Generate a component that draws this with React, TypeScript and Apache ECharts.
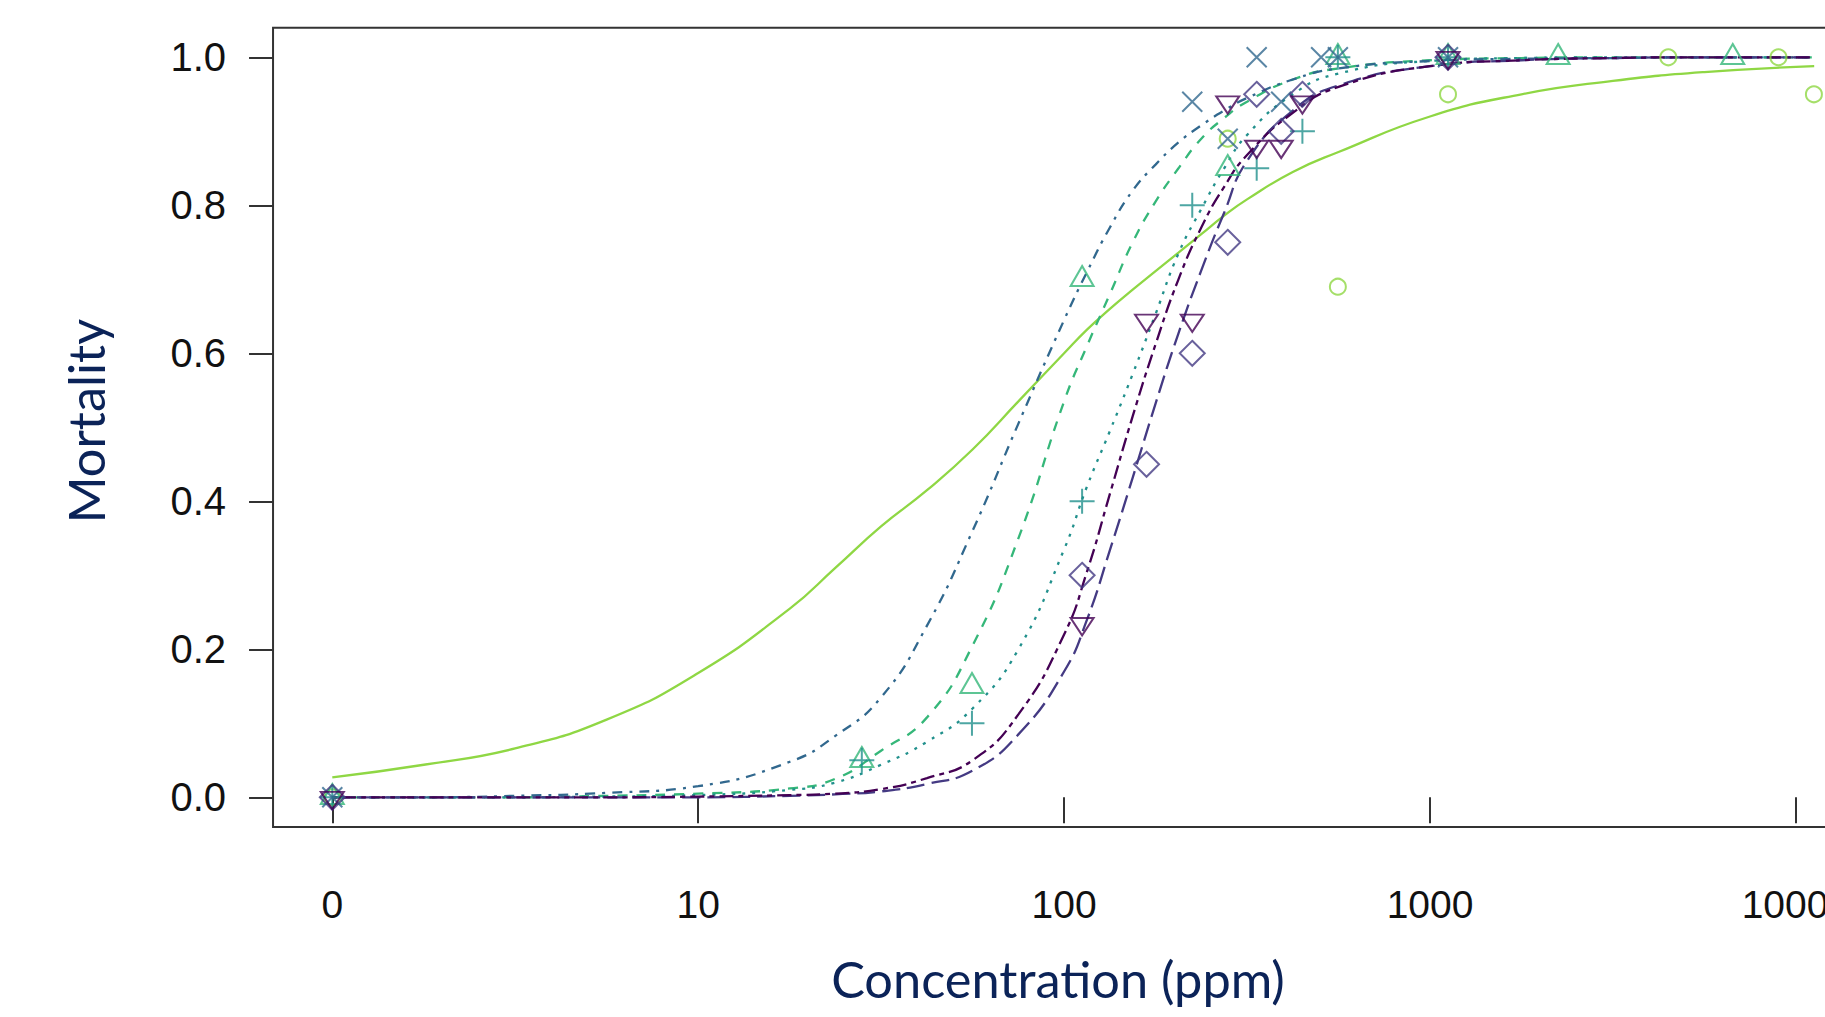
import { useEffect, useRef } from "react";
import * as echarts from "echarts";

// ---------- data ----------
// x positions (ppm) of the sampled fitted curves; 1 ppm is drawn at the "0" tick (control)
const CURVE_X = [1, 1.78, 3.16, 5.62, 10, 17.8, 23.7, 31.6, 42.2, 56.2, 75, 100, 115.5, 133.4, 154, 177.8, 205.4, 237.1, 273.8, 316.2, 421.7, 562.3, 1000, 1778, 3162, 5623, 11220];

const CURVE_CIRCLE = [0.027, 0.044, 0.066, 0.105, 0.168, 0.255, 0.31, 0.366, 0.415, 0.47, 0.535, 0.6, 0.632, 0.66, 0.686, 0.711, 0.736, 0.761, 0.786, 0.808, 0.845, 0.872, 0.92, 0.95, 0.968, 0.98, 0.988];
const CURVE_TRIANGLE = [0, 0, 0, 0.002, 0.005, 0.012, 0.025, 0.063, 0.108, 0.205, 0.35, 0.535, 0.61, 0.68, 0.75, 0.805, 0.85, 0.89, 0.918, 0.94, 0.97, 0.985, 0.996, 0.999, 1, 1, 1];
const CURVE_PLUS = [0, 0, 0, 0.001, 0.003, 0.01, 0.02, 0.044, 0.075, 0.12, 0.2, 0.335, 0.42, 0.495, 0.572, 0.653, 0.735, 0.795, 0.85, 0.895, 0.95, 0.978, 0.995, 0.999, 1, 1, 1];
const CURVE_CROSS = [0, 0, 0.002, 0.006, 0.015, 0.048, 0.083, 0.135, 0.232, 0.36, 0.505, 0.645, 0.71, 0.77, 0.82, 0.855, 0.885, 0.908, 0.928, 0.945, 0.97, 0.985, 0.995, 0.998, 0.999, 1, 1];
const CURVE_DIAMOND = [0, 0, 0, 0, 0, 0.002, 0.004, 0.008, 0.018, 0.036, 0.085, 0.17, 0.24, 0.334, 0.432, 0.532, 0.627, 0.712, 0.79, 0.86, 0.928, 0.962, 0.988, 0.996, 0.999, 1, 1];
const CURVE_INVTRI = [0, 0, 0, 0, 0.001, 0.003, 0.005, 0.011, 0.026, 0.05, 0.112, 0.22, 0.305, 0.41, 0.515, 0.612, 0.7, 0.77, 0.825, 0.868, 0.925, 0.96, 0.988, 0.996, 0.999, 1, 1];

// observed mortality
const OBS_CIRCLE_X = [1, 280, 560, 1120, 4480, 8960, 11200];
const OBS_CIRCLE_Y = [0, 0.89, 0.69, 0.95, 1.0, 1.0, 0.95];
const OBS_TRIANGLE_X = [1, 28, 56, 112, 280, 560, 1120, 2240, 6720];
const OBS_TRIANGLE_Y = [0, 0.05, 0.15, 0.7, 0.85, 1.0, 1.0, 1.0, 1.0];
const OBS_PLUS_X = [1, 28, 56, 112, 224, 336, 448, 560, 1120];
const OBS_PLUS_Y = [0, 0.05, 0.1, 0.4, 0.8, 0.85, 0.9, 1.0, 1.0];
const OBS_CROSS_X = [1, 224, 280, 336, 392, 504, 560, 1120];
const OBS_CROSS_Y = [0, 0.94, 0.89, 1.0, 0.94, 1.0, 1.0, 1.0];
const OBS_DIAMOND_X = [1, 112, 168, 224, 280, 336, 392, 448, 1120];
const OBS_DIAMOND_Y = [0, 0.3, 0.45, 0.6, 0.75, 0.95, 0.9, 0.95, 1.0];
const OBS_INVTRI_X = [1, 112, 168, 224, 280, 336, 392, 448, 1120];
const OBS_INVTRI_Y = [0, 0.235, 0.645, 0.645, 0.94, 0.88, 0.88, 0.94, 1.0];

const X_TICKS = [1, 10, 100, 1000, 10000];
const X_TICK_LABELS = ["0", "10", "100", "1000", "10000"];
const Y_TICKS = [0, 0.2, 0.4, 0.6, 0.8, 1.0];

const X_MIN = 0.6887; // plotting range (4% padding, log scale)
const X_MAX = 16255;
const Y_MIN = -0.04;
const Y_MAX = 1.04;

// ---------- layout / style ----------
const VIEW_W = 1825;
const VIEW_H = 1017;
const CHART_W = 1900;
const X0 = 332.3; // pixel of x = 1
const DEC = 365.9; // pixels per decade
const Y1 = 57.3; // pixel of y = 1.0
const YSPAN = 740; // pixels from 0.0 to 1.0

const boxLeft = X0 + Math.log10(X_MIN) * DEC;
const boxWidth = (Math.log10(X_MAX) - Math.log10(X_MIN)) * DEC;
const boxTop = Y1 - (Y_MAX - 1) * YSPAN;
const boxHeight = (Y_MAX - Y_MIN) * YSPAN;

const AXIS_COLOR = "#333333";
const LABEL_FONT = "Liberation Sans, Arial, sans-serif";
const TITLE_FONT = "Lato, 'Open Sans', sans-serif";
const TITLE_COLOR = "#0b2358";

const GROUPS = [
  { curve: CURVE_CIRCLE, ox: OBS_CIRCLE_X, oy: OBS_CIRCLE_Y, color: "#8FD744", dash: "solid", symbol: "circle", size: 16, offset: [0, 0] },
  { curve: CURVE_TRIANGLE, ox: OBS_TRIANGLE_X, oy: OBS_TRIANGLE_Y, color: "#35B779", dash: [10, 9], symbol: "triangle", size: [23, 20], offset: [0, -3.3] },
  { curve: CURVE_PLUS, ox: OBS_PLUS_X, oy: OBS_PLUS_Y, color: "#21908C", dash: [3, 7], symbol: "path://M0,10L20,10M10,0L10,20", size: 25, offset: [0, 0] },
  { curve: CURVE_CROSS, ox: OBS_CROSS_X, oy: OBS_CROSS_Y, color: "#31688E", dash: [3, 7, 10, 7], symbol: "path://M0,0L20,20M20,0L0,20", size: 20, offset: [0, 0] },
  { curve: CURVE_DIAMOND, ox: OBS_DIAMOND_X, oy: OBS_DIAMOND_Y, color: "#443A83", dash: [18, 7], symbol: "diamond", size: 25, offset: [0, 0] },
  { curve: CURVE_INVTRI, ox: OBS_INVTRI_X, oy: OBS_INVTRI_Y, color: "#440154", dash: [5, 5, 14, 5], symbol: "path://M0,0L20,0L10,17.32Z", size: [23, 20], offset: [0, 3.3] },
];

export default function App() {
  const ref = useRef<HTMLDivElement>(null);

  useEffect(() => {
    if (!ref.current) return;
    const chart = echarts.init(ref.current, undefined, { renderer: "svg" });

    const lineSeries = GROUPS.map((g) => ({
      type: "line",
      xAxisIndex: 0,
      yAxisIndex: 0,
      data: CURVE_X.map((x, i) => [x, g.curve[i]]),
      showSymbol: false,
      symbol: "none",
      smooth: 0.5,
      silent: true,
      z: 2,
      lineStyle: { color: g.color, width: 2.3, type: g.dash as any },
    }));

    const pointSeries = GROUPS.map((g) => ({
      type: "scatter",
      xAxisIndex: 0,
      yAxisIndex: 0,
      data: g.ox.map((x, i) => [x, g.oy[i]]),
      symbol: g.symbol,
      symbolSize: g.size,
      symbolOffset: g.offset,
      symbolKeepAspect: true,
      silent: true,
      z: 3,
      itemStyle: { color: "rgba(0,0,0,0)", borderColor: g.color, borderWidth: 2 },
    }));

    chart.setOption({
      animation: false,
      backgroundColor: "#ffffff",
      grid: [
        {
          left: boxLeft,
          top: boxTop,
          width: boxWidth,
          height: boxHeight,
          show: true,
          borderColor: AXIS_COLOR,
          borderWidth: 2,
          backgroundColor: "transparent",
          containLabel: false,
          outerBoundsMode: "none",
        },
        {
          left: X0,
          top: Y1,
          width: DEC * 4,
          height: YSPAN,
          show: false,
          containLabel: false,
          outerBoundsMode: "none",
        },
      ],
      xAxis: [
        { type: "log", logBase: 10, gridIndex: 0, min: X_MIN, max: X_MAX, show: false },
        {
          type: "log",
          logBase: 10,
          gridIndex: 1,
          min: X_TICKS[0],
          max: X_TICKS[X_TICKS.length - 1],
          position: "bottom",
          offset: boxTop + boxHeight - (Y1 + YSPAN),
          axisLine: { show: false },
          splitLine: { show: false },
          minorTick: { show: false },
          axisTick: { show: true, length: 26, lineStyle: { color: AXIS_COLOR, width: 2 } },
          axisLabel: {
            show: true,
            margin: 78,
            verticalAlign: "middle",
            color: "#111111",
            fontFamily: LABEL_FONT,
            fontSize: 39,
            showMinLabel: true,
            showMaxLabel: true,
            formatter: (v: number) => {
              const i = X_TICKS.findIndex((t) => Math.abs(Math.log10(t) - Math.log10(v)) < 1e-6);
              return i >= 0 ? X_TICK_LABELS[i] : "";
            },
          },
        },
      ],
      yAxis: [
        { type: "value", gridIndex: 0, min: Y_MIN, max: Y_MAX, show: false },
        {
          type: "value",
          gridIndex: 1,
          min: Y_TICKS[0],
          max: Y_TICKS[Y_TICKS.length - 1],
          interval: 0.2,
          position: "left",
          offset: X0 - boxLeft,
          axisLine: { show: false },
          splitLine: { show: false },
          axisTick: { show: true, length: 24, lineStyle: { color: AXIS_COLOR, width: 2 } },
          axisLabel: {
            show: true,
            margin: 47,
            color: "#111111",
            fontFamily: LABEL_FONT,
            fontSize: 40,
            showMinLabel: true,
            showMaxLabel: true,
            formatter: (v: number) => v.toFixed(1),
          },
        },
      ],
      graphic: [
        {
          type: "text",
          x: 1058,
          y: 978,
          silent: true,
          style: {
            text: "Concentration (ppm)",
            fill: TITLE_COLOR,
            fontFamily: TITLE_FONT,
            fontSize: 50.5,
            textAlign: "center",
            textVerticalAlign: "middle",
            align: "center",
            verticalAlign: "middle",
          },
        },
        {
          type: "text",
          x: 85.5,
          y: 421,
          rotation: Math.PI / 2,
          silent: true,
          style: {
            text: "Mortality",
            fill: TITLE_COLOR,
            fontFamily: TITLE_FONT,
            fontSize: 50.5,
            textAlign: "center",
            textVerticalAlign: "middle",
            align: "center",
            verticalAlign: "middle",
          },
        },
      ],
      series: [...lineSeries, ...pointSeries],
    });

    return () => {
      chart.dispose();
    };
  }, []);

  return (
    <div
      style={{
        position: "fixed",
        left: 0,
        top: 0,
        width: VIEW_W,
        height: VIEW_H,
        overflow: "hidden",
        background: "#ffffff",
      }}
    >
      <div ref={ref} style={{ width: CHART_W, height: VIEW_H }} />
    </div>
  );
}
